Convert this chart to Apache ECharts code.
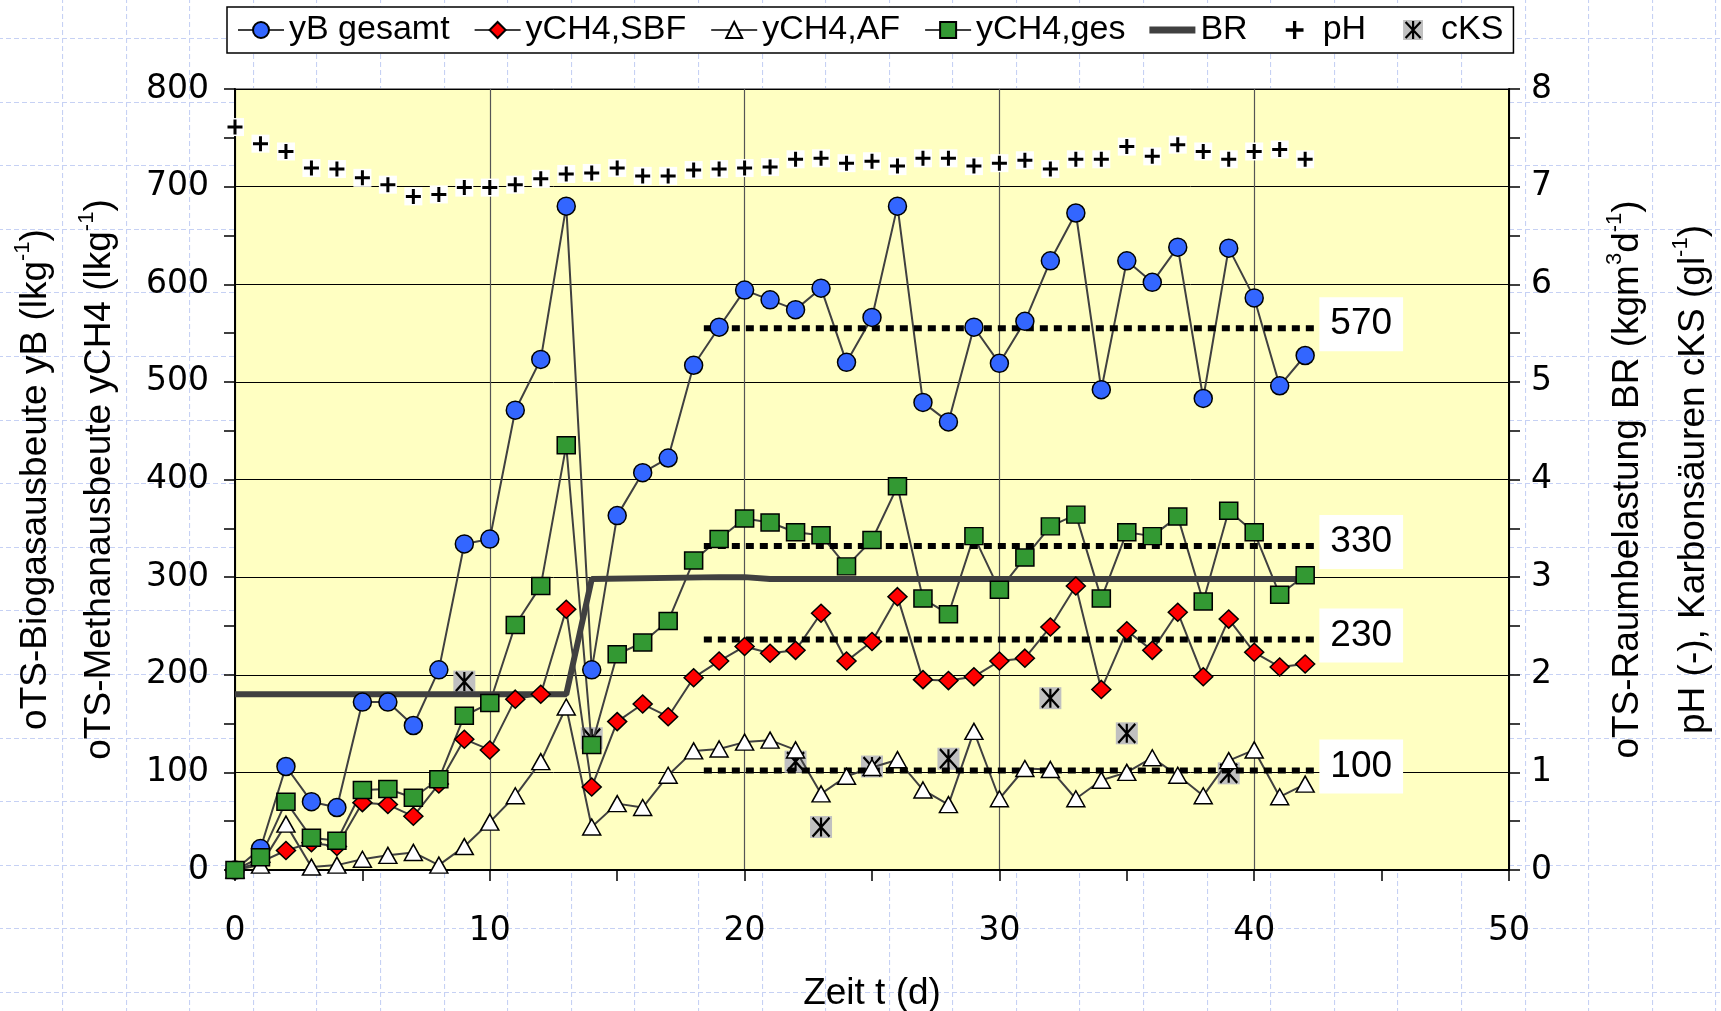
<!DOCTYPE html>
<html>
<head>
<meta charset="utf-8">
<title>Biogas- und Methanausbeute</title>
<script src="https://cdn.jsdelivr.net/npm/echarts@6/dist/echarts.min.js"></script>
<style>
  html, body { margin: 0; padding: 0; background: #fff; }
  #main {
    width: 1721px; height: 1011px; background-color: #fff;
    background-image: url("data:image/svg+xml;utf8,<svg xmlns='http://www.w3.org/2000/svg' width='64' height='64'><path d='M0.5 0V64M0 0.5H64' stroke='%23c6d1f4' stroke-width='1.2' stroke-dasharray='5 3' fill='none'/></svg>");
    background-size: 63.6px 63.6px;
    background-position: 62px 38px;
  }
</style>
</head>
<body>
<div id="main"></div>
<script>
  // Versuchstage
  let days = [0, 1, 2, 3, 4, 5, 6, 7, 8, 9, 10, 11, 12, 13, 14, 15, 16, 17, 18, 19, 20,
    21, 22, 23, 24, 25, 26, 27, 28, 29, 30, 31, 32, 33, 34, 35, 36, 37, 38, 39, 40, 41, 42];
  // linke Achse (l/kg)
  let yB = [0, 22, 106, 70, 64, 172, 172, 148, 205, 334, 339, 471, 523, 680, 205, 363, 407, 422, 517, 556, 594,
    584, 574, 596, 520, 566, 680, 479, 459, 556, 519, 562, 624, 673, 492, 624, 602, 638, 483, 637, 586, 496, 527];
  let yCH4SBF = [0, 8, 20, 28, 24, 69, 67, 55, 88, 134, 123, 175, 180, 267, 85, 152, 170, 157, 197, 214, 229,
    222, 225, 263, 214, 234, 280, 195, 194, 198, 214, 217, 249, 291, 185, 245, 225, 264, 198, 257, 223, 208, 211];
  let yCH4AF = [0, 5, 47, 3, 5, 11, 15, 18, 5, 24, 49, 76, 111, 167, 44, 68, 64, 97, 122, 124, 131,
    133, 123, 78, 96, 105, 113, 82, 67, 142, 73, 104, 103, 73, 92, 100, 115, 97, 76, 112, 123, 75, 88];
  let yCH4ges = [0, 13, 70, 33, 30, 82, 83, 74, 93, 158, 171, 251, 291, 435, 128, 221, 233, 255, 317, 339, 360,
    356, 346, 343, 311, 338, 393, 278, 262, 342, 287, 320, 352, 364, 278, 346, 342, 362, 275, 368, 346, 282, 302];
  // rechte Achse
  let pH = [7.61, 7.44, 7.36, 7.19, 7.18, 7.09, 7.02, 6.90, 6.92, 6.99, 6.99, 7.02, 7.08, 7.13, 7.14, 7.19, 7.11,
    7.11, 7.17, 7.18, 7.19, 7.20, 7.28, 7.29, 7.24, 7.26, 7.21, 7.29, 7.29, 7.21, 7.24, 7.27, 7.18, 7.28, 7.28,
    7.41, 7.31, 7.43, 7.36, 7.28, 7.36, 7.38, 7.28];
  let brDays = [0, 13, 14, 19, 20, 21, 42];
  let brValues = [1.80, 1.80, 2.98, 3.00, 3.00, 2.98, 2.98];
  let cksDays = [9, 14, 22, 23, 25, 28, 32, 35, 39];
  let cksValues = [1.93, 1.35, 1.11, 0.44, 1.06, 1.14, 1.76, 1.40, 0.99];
  // Mittelwerte (gepunktete Linien)
  let refLevels = [555, 332, 236, 102];
  let refLabels = ['570', '330', '230', '100'];
  let refFrom = 18.4;
  let refTo = 42.4;

  let sans = "'Liberation Sans', Arial, sans-serif";
  let tickFont = "'DejaVu Sans', Verdana, sans-serif";

  let plusPath = 'path://M8 0V16M0 8H16';
  let starPath = 'path://M0 0L16 18M16 0L0 18M8 0V18';
  // nur fuer die Legendensymbole
  let phSvg = "<svg xmlns='http://www.w3.org/2000/svg' width='18' height='18' viewBox='0 0 18 18'>" +
    "<path d='M9 1V17M1 9H17' stroke='#000000' stroke-width='3' fill='none'/></svg>";
  let cksSvg = "<svg xmlns='http://www.w3.org/2000/svg' width='20' height='20' viewBox='0 0 20 20'>" +
    "<rect width='20' height='20' fill='#c0c0c0'/>" +
    "<path d='M2.5 2L17.5 18M17.5 2L2.5 18M10 1V19' stroke='#000000' stroke-width='2.2' fill='none'/></svg>";
  let phIcon = 'image://data:image/svg+xml;charset=utf-8,' + encodeURIComponent(phSvg);
  let cksIcon = 'image://data:image/svg+xml;charset=utf-8,' + encodeURIComponent(cksSvg);

  function pairs(xs, ys) {
    return xs.map(function (x, i) {
      return [x, ys[i]];
    });
  }

  function markerSeries(name, values, symbol, size, fill) {
    return {
      name: name,
      type: 'line',
      data: pairs(days, values),
      symbol: symbol,
      symbolSize: size,
      showSymbol: true,
      itemStyle: {color: fill, borderColor: '#000', borderWidth: 1.5},
      lineStyle: {color: '#404040', width: 2},
      emphasis: {disabled: true}
    };
  }

  function scatterSeries(name, xs, ys, symbol, size, fill, stroke, strokeWidth) {
    return {
      name: name,
      type: 'scatter',
      yAxisIndex: 1,
      data: pairs(xs, ys),
      symbol: symbol,
      symbolSize: size,
      itemStyle: {color: fill, borderColor: stroke, borderWidth: strokeWidth, opacity: 1},
      emphasis: {disabled: true}
    };
  }

  let series = [
    markerSeries('yB gesamt', yB, 'circle', 18, '#3366ff'),
    markerSeries('yCH4,SBF', yCH4SBF, 'diamond', [19, 18], '#ff0000'),
    markerSeries('yCH4,AF', yCH4AF, 'triangle', [18, 16], '#ffffff'),
    markerSeries('yCH4,ges', yCH4ges, 'rect', [18, 17], '#339933'),
    {
      name: 'BR',
      type: 'line',
      yAxisIndex: 1,
      data: pairs(brDays, brValues),
      symbol: 'none',
      itemStyle: {color: '#404040'},
      lineStyle: {color: '#404040', width: 6},
      emphasis: {disabled: true}
    }
  ];

  refLevels.forEach(function (v, i) {
    series.push({
      name: 'ref' + refLabels[i],
      type: 'line',
      data: [[refFrom, v], [refTo, v]],
      symbol: 'none',
      lineStyle: {color: '#000', width: 6, type: [8, 6]},
      emphasis: {disabled: true},
      endLabel: {
        show: true,
        formatter: refLabels[i],
        fontSize: 37,
        fontFamily: sans,
        color: '#000',
        backgroundColor: '#fff',
        padding: [9, 11, 8, 11],
        distance: 4,
        offset: [0, -4]
      }
    });
  });

  series.push(scatterSeries('pHbg', days, pH, 'rect', 18, '#ffffff', '#ffffff', 0));
  series.push(scatterSeries('pH', days, pH, plusPath, 15, 'rgba(0,0,0,0)', '#000', 3));
  series.push(scatterSeries('cKSbg', cksDays, cksValues, 'rect', 22, '#c0c0c0', '#c0c0c0', 0));
  series.push(scatterSeries('cKS', cksDays, cksValues, starPath, [17, 19], 'rgba(0,0,0,0)', '#000', 2.3));

  let nameRich = {
    t: {fontSize: 37, fontFamily: sans, color: '#000', lineHeight: 64},
    s: {fontSize: 22, fontFamily: sans, color: '#000', padding: [0, 0, 26, 0]}
  };

  let axisBase = {
    axisLine: {show: true, lineStyle: {color: '#000', width: 2}},
    axisTick: {show: true, inside: false, length: 11, lineStyle: {color: '#000', width: 1.5}},
    minorTick: {show: true, splitNumber: 2, length: 11, lineStyle: {color: '#000', width: 1.5}},
    axisLabel: {fontSize: 33, fontFamily: tickFont, color: '#000'}
  };

  let chart = echarts.init(document.getElementById('main'));
  let option = {
    animation: false,
    grid: {
      left: 235, right: 212, top: 89, bottom: 141,
      show: true,
      backgroundColor: '#ffffc2',
      borderColor: '#8a8a8a',
      borderWidth: 2,
      outerBoundsMode: 'none'
    },
    legend: {
      left: 227,
      top: 7,
      padding: [6, 10],
      itemGap: 24,
      itemWidth: 46,
      itemHeight: 20,
      selectedMode: false,
      backgroundColor: '#fff',
      borderColor: '#000',
      borderWidth: 1.5,
      textStyle: {fontSize: 34, fontFamily: sans, color: '#000'},
      data: ['yB gesamt', 'yCH4,SBF', 'yCH4,AF', 'yCH4,ges',
        {name: 'BR', icon: 'path://M0 0H46V7H0Z'},
        {name: 'pH', icon: phIcon},
        {name: 'cKS', icon: cksIcon}]
    },
    xAxis: Object.assign({}, axisBase, {
      type: 'value',
      min: 0,
      max: 50,
      interval: 10,
      splitLine: {show: true, lineStyle: {color: '#555', width: 1.2}},
      axisLabel: Object.assign({}, axisBase.axisLabel, {margin: 45}),
      name: 'Zeit t (d)',
      nameLocation: 'middle',
      nameGap: 105,
      nameTextStyle: {fontSize: 37, fontFamily: sans, color: '#000'}
    }),
    yAxis: [
      Object.assign({}, axisBase, {
        type: 'value',
        min: 0,
        max: 800,
        interval: 100,
        splitLine: {show: true, lineStyle: {color: '#000', width: 1}},
        axisLabel: Object.assign({}, axisBase.axisLabel, {margin: 26}),
        name: '{t|oTS-Biogasausbeute yB (lkg}{s|-1}{t|)}\n{t|oTS-Methanausbeute yCH4 (lkg}{s|-1}{t|)}',
        nameLocation: 'middle',
        nameRotate: 90,
        nameGap: 103,
        nameTextStyle: {lineHeight: 64, rich: nameRich}
      }),
      Object.assign({}, axisBase, {
        type: 'value',
        position: 'right',
        min: 0,
        max: 8,
        interval: 1,
        splitLine: {show: false},
        axisLabel: Object.assign({}, axisBase.axisLabel, {margin: 22}),
        name: '{t|oTS-Raumbelastung BR (kgm}{s|3}{t|d}{s|-1}{t|)}\n{t|pH (-), Karbonsäuren cKS (gl}{s|-1}{t|)}',
        nameLocation: 'middle',
        nameRotate: 90,
        nameGap: 86,
        nameTextStyle: {lineHeight: 66, rich: nameRich}
      })
    ],
    series: series
  };
  chart.setOption(option);
</script>
</body>
</html>
